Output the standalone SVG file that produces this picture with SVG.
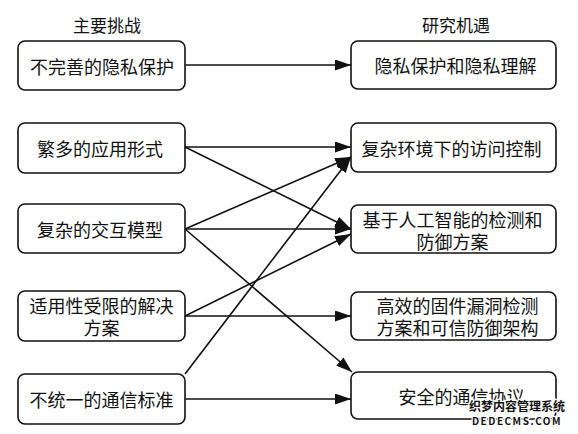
<svg xmlns="http://www.w3.org/2000/svg" width="578" height="434" viewBox="0 0 578 434">
<style>
.box{fill:#fff;stroke:#111;stroke-width:1.6}
.t{font-family:"Noto Sans CJK SC","Noto Sans",sans-serif;font-size:18px;fill:#111;text-anchor:middle;dominant-baseline:central}
.h{font-family:"Noto Sans CJK SC","Noto Sans",sans-serif;font-size:17px;fill:#111;text-anchor:middle;dominant-baseline:central}
.c line{stroke:#111;stroke-width:1.6;marker-end:url(#a)}
.wm{font-family:"Noto Sans CJK SC",sans-serif;font-weight:bold;fill:#111;stroke:#fff;stroke-width:2.5;paint-order:stroke;text-anchor:middle}
</style>
<defs>
<marker id="a" markerUnits="userSpaceOnUse" markerWidth="17" markerHeight="11" refX="16" refY="5.5" orient="auto">
<path d="M0,0 L16,5.5 L0,11 z" fill="#111"/>
</marker>
</defs>
<text class="h" x="107" y="24.5">主要挑战</text>
<text class="h" x="456" y="24.5">研究机遇</text>
<g class="c">
<line x1="185" y1="65" x2="351" y2="65"/>
<line x1="185" y1="147" x2="351" y2="147"/>
<line x1="185" y1="147" x2="351" y2="229"/>
<line x1="185" y1="229" x2="351" y2="157"/>
<line x1="185" y1="229" x2="351" y2="229"/>
<line x1="185" y1="229" x2="352" y2="372"/>
<line x1="185" y1="316" x2="351" y2="316"/>
<line x1="185" y1="316" x2="351" y2="234"/>
<line x1="185" y1="399" x2="351" y2="399"/>
<line x1="185" y1="374" x2="351" y2="157"/>
</g>
<g id="L1"><rect class="box" x="18" y="41" width="167" height="49" rx="7"/><text class="t" x="102" y="65.5">不完善的隐私保护</text></g>
<g id="L2"><rect class="box" x="18" y="123" width="167" height="50" rx="7"/><text class="t" x="100" y="148">繁多的应用形式</text></g>
<g id="L3"><rect class="box" x="18" y="204" width="167" height="49" rx="7"/><text class="t" x="100" y="229">复杂的交互模型</text></g>
<g id="L4"><rect class="box" x="18" y="291" width="167" height="50" rx="7"/><text class="t"><tspan x="101.5" y="305">适用性受限的解决</tspan><tspan x="101.5" y="327">方案</tspan></text></g>
<g id="L5"><rect class="box" x="18" y="374" width="167" height="50" rx="7"/><text class="t" x="101.5" y="399">不统一的通信标准</text></g>
<g id="R1"><rect class="box" x="351" y="41" width="205" height="48" rx="7"/><text class="t" x="455.5" y="65">隐私保护和隐私理解</text></g>
<g id="R2"><rect class="box" x="351" y="123" width="205" height="49" rx="7"/><text class="t" x="451.5" y="147.5">复杂环境下的访问控制</text></g>
<g id="R3"><rect class="box" x="351" y="205" width="205" height="48" rx="7"/><text class="t"><tspan x="452.5" y="218.5">基于人工智能的检测和</tspan><tspan x="452.5" y="240.5">防御方案</tspan></text></g>
<g id="R4"><rect class="box" x="351" y="292" width="205" height="48" rx="7"/><text class="t"><tspan x="457.5" y="305">高效的固件漏洞检测</tspan><tspan x="457.5" y="327">方案和可信防御架构</tspan></text></g>
<g id="R5"><rect class="box" x="351" y="372" width="205" height="47" rx="7"/><text class="t" x="461.5" y="396">安全的通信协议</text></g>
<text class="wm" font-size="12"><tspan x="517" y="411">织梦内容管理系统</tspan><tspan x="517" y="425" font-size="10" letter-spacing="1.5">DEDECMS.COM</tspan></text>
</svg>
